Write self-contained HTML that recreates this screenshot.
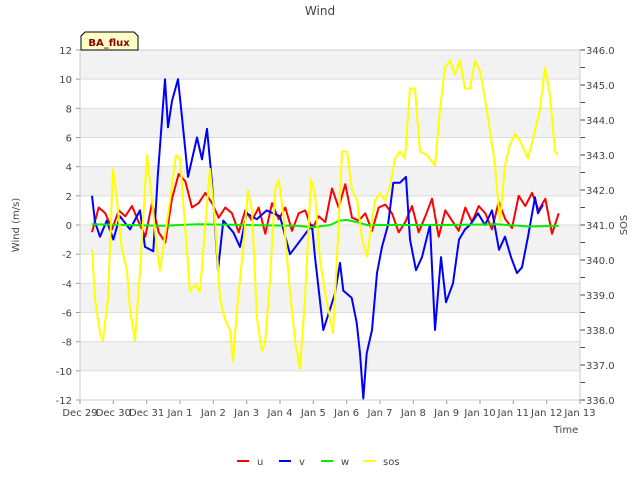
<!DOCTYPE html>
<html><head><meta charset="utf-8"><style>
body{margin:0;background:#fff;font-family:"Liberation Sans",sans-serif}
text{font-family:"DejaVu Sans","Liberation Sans",sans-serif}
</style></head><body>
<svg id="c" width="640" height="480" xmlns="http://www.w3.org/2000/svg">
<g id="bands"></g><g id="grid"></g><g id="series"></g><g id="axes"></g>
<text x="320" y="15" text-anchor="middle" font-size="12" fill="#444">Wind</text>
<text x="19" y="225" text-anchor="middle" font-size="10" fill="#444" transform="rotate(-90 19 225)">Wind (m/s)</text>
<text x="627" y="225" text-anchor="middle" font-size="10" fill="#444" transform="rotate(-90 627 225)">SOS</text>
<text x="566" y="433" text-anchor="middle" font-size="10" fill="#444">Time</text>
<g>
<path d="M81,50 L81,36 L85,32 L134,32 L138,36 L138,50 Z" fill="#ffffc8" stroke="#000" stroke-width="1"/>
<text x="109" y="46" text-anchor="middle" font-size="10" font-weight="bold" fill="#8b0000">BA_flux</text>
</g>
<g id="legend"></g>
</svg>
<script>
const xTickLabels=["Dec 29","Dec 30","Dec 31","Jan 1","Jan 2","Jan 3","Jan 4","Jan 5","Jan 6","Jan 7","Jan 8","Jan 9","Jan 10","Jan 11","Jan 12","Jan 13"];
const yTicks=[-12,-10,-8,-6,-4,-2,0,2,4,6,8,10,12];
const y2Ticks=[336,337,338,339,340,341,342,343,344,345,346];
const uStart=0.36, uStep=0.2;
const uValues=[-0.5,1.2,0.8,-0.3,1.0,0.6,1.3,0.2,-0.8,1.5,-0.5,-1.2,1.8,3.5,3.0,1.2,1.5,2.2,1.5,0.5,1.2,0.8,-0.5,1.0,0.3,1.2,-0.6,1.5,0.4,1.2,-0.4,0.8,1.0,-0.3,0.6,0.2,2.5,1.2,2.8,0.5,0.3,0.8,-0.4,1.2,1.4,0.8,-0.5,0.2,1.3,-0.5,0.6,1.8,-0.8,1.0,0.3,-0.4,1.2,0.2,1.3,0.8,-0.3,1.6,0.4,-0.2,2.0,1.3,2.2,1.0,1.8,-0.6,0.8];
const vTimes=[0.36,0.45,0.6,0.8,1.0,1.2,1.5,1.8,1.95,2.2,2.33,2.55,2.64,2.76,2.94,3.06,3.24,3.51,3.66,3.81,3.96,4.14,4.3,4.6,4.8,5.0,5.3,5.6,6.0,6.3,6.96,7.05,7.3,7.65,7.8,7.9,8.15,8.3,8.4,8.5,8.6,8.76,8.91,9.06,9.24,9.4,9.6,9.78,9.9,10.08,10.26,10.5,10.65,10.83,10.98,11.19,11.37,11.55,11.7,11.94,12.15,12.36,12.57,12.75,12.93,13.11,13.26,13.44,13.65,13.74,13.89,14.01,14.16,14.25,14.34];
const vValues=[2.0,0.2,-0.8,0.3,-1.0,0.6,-0.3,1.0,-1.5,-1.8,3.3,10.0,6.7,8.5,10.0,7.4,3.3,6.0,4.5,6.6,2.9,-3.1,0.3,-0.5,-1.5,0.8,0.4,1.0,0.6,-2.0,0.0,-2.2,-7.2,-4.7,-2.6,-4.5,-5.0,-6.7,-8.8,-11.9,-8.8,-7.2,-3.3,-1.5,0.0,2.9,2.9,3.3,-1.0,-3.1,-2.2,0.0,-7.2,-2.2,-5.3,-4.0,-1.0,-0.3,0.0,0.8,0.0,1.0,-1.7,-0.8,-2.2,-3.3,-2.9,-0.8,1.9,0.8,1.4];
const wTimes=[0.36,1.5,2.5,3.5,5.0,6.5,7.0,7.5,7.8,8.0,8.3,8.6,9.5,11,12.5,13.5,14.36];
const wValues=[0.05,0.0,-0.05,0.05,0.0,-0.05,-0.15,0.0,0.3,0.35,0.2,0.0,0.0,0.0,0.05,-0.1,-0.05];
const sosTimes=[0.36,0.45,0.6,0.69,0.84,0.99,1.11,1.26,1.41,1.5,1.65,1.8,2.01,2.16,2.31,2.4,2.7,2.88,3.0,3.18,3.3,3.45,3.6,3.75,3.9,4.05,4.2,4.35,4.5,4.59,4.71,4.86,5.04,5.16,5.31,5.46,5.55,5.7,5.85,5.97,6.12,6.3,6.45,6.6,6.75,6.93,7.05,7.2,7.35,7.59,7.74,7.86,8.01,8.16,8.31,8.46,8.61,8.85,9.0,9.15,9.3,9.45,9.6,9.75,9.9,10.05,10.2,10.41,10.65,10.8,10.95,11.1,11.25,11.4,11.55,11.7,11.85,12.0,12.15,12.3,12.45,12.6,12.75,12.9,13.05,13.2,13.44,13.65,13.8,13.95,14.1,14.25,14.34];
const sosValues=[340.3,338.9,337.9,337.7,338.9,342.6,341.7,340.3,339.7,338.6,337.7,339.7,343.0,341.7,340.3,339.7,341.7,343.0,342.9,340.6,339.1,339.3,339.1,340.9,342.6,341.1,338.9,338.3,338.0,337.1,338.6,340.0,342.0,341.4,338.3,337.4,337.6,339.4,342.0,342.3,341.1,339.1,337.7,336.9,338.9,342.3,341.9,340.0,339.1,337.9,340.6,343.1,343.1,342.0,341.7,340.6,340.1,341.7,341.9,341.7,342.1,342.9,343.1,342.9,344.9,344.9,343.1,343.0,342.7,344.3,345.5,345.7,345.3,345.7,344.9,344.9,345.7,345.4,344.6,343.7,342.7,341.1,342.7,343.3,343.6,343.4,342.9,343.7,344.3,345.5,344.7,343.1,343.0];
const NS="http://www.w3.org/2000/svg";
const L=80,R=580,T=50,B=400;
const x=t=>L+(t/15)*(R-L);
const y=v=>B-(v+12)/24*(B-T);
const y2=v=>B-(v-336)/10*(B-T);
function mk(tag,attrs,parent){const e=document.createElementNS(NS,tag);for(const k in attrs)e.setAttribute(k,attrs[k]);document.getElementById(parent).appendChild(e);return e;}
for(let i=0;i<yTicks.length-1;i++){
  const v=yTicks[i];
  if([10,6,2,-2,-6,-10].includes(v)){
    const b=mk('rect',{x:L,y:y(v+2),width:R-L,height:y(v)-y(v+2),fill:'#f2f2f2'},'bands');
    
    
  }
}
yTicks.forEach(v=>{
  const g=mk('line',{x1:L,x2:R,y1:y(v),y2:y(v),stroke:'#dcdcdc','stroke-width':1},'grid');
  
  
  const tk=mk('line',{x1:L-4,x2:L,y1:y(v),y2:y(v),stroke:'#999'},'axes');
  
  
  const t=mk('text',{x:L-8,y:y(v)+4,'text-anchor':'end','font-size':10,fill:'#444'},'axes');
  t.textContent=v;
  
  
});
for(let v=336;v<=346.01;v+=0.5){
  const tk=mk('line',{x1:R,x2:R+5,y1:y2(v),y2:y2(v),stroke:'#444'},'axes');
  
  
}
y2Ticks.forEach(v=>{
  const t=mk('text',{x:R+6,y:y2(v)+4,'font-size':10,fill:'#444'},'axes');
  t.textContent=v.toFixed(1);
  
  
});
xTickLabels.forEach((s,i)=>{
  const tk=mk('line',{x1:x(i),x2:x(i),y1:B,y2:B+4,stroke:'#999'},'axes');
  
  
  const t=mk('text',{x:x(i),y:B+16,'text-anchor':'middle','font-size':10,fill:'#444'},'axes');
  t.textContent=s;
  
  
});
const frame=mk('rect',{x:L,y:T,width:R-L,height:B-T,fill:'none',stroke:'#ccc'},'axes');


function line(ts,vs,fy,col,name){
  const d=vs.map((v,i)=>(i?'L':'M')+x(ts[i]).toFixed(1)+','+fy(v).toFixed(1)).join(' ');
  const p=mk('path',{d:d,fill:'none',stroke:col,'stroke-width':2,'stroke-linejoin':'round'},'series');
  
  
}
line(uValues.map((_,i)=>uStart+i*uStep),uValues,y,'#ff0000','series-u');
line(vTimes,vValues,y,'#0000ff','series-v');
line(wTimes,wValues,y,'#00ee00','series-w');
line(sosTimes,sosValues,y2,'#ffff00','series-sos');
[['u','#ff0000',237],['v','#0000ff',279],['w','#00ee00',321],['sos','#ffff00',363]].forEach(([n,c,lx])=>{
  const l=mk('line',{x1:lx,x2:lx+12,y1:461,y2:461,stroke:c,'stroke-width':2},'legend');
  
  
  const t=mk('text',{x:lx+20,y:465,'font-size':10,fill:'#444'},'legend');
  t.textContent=n;
  
  
});
</script>
</body></html>
